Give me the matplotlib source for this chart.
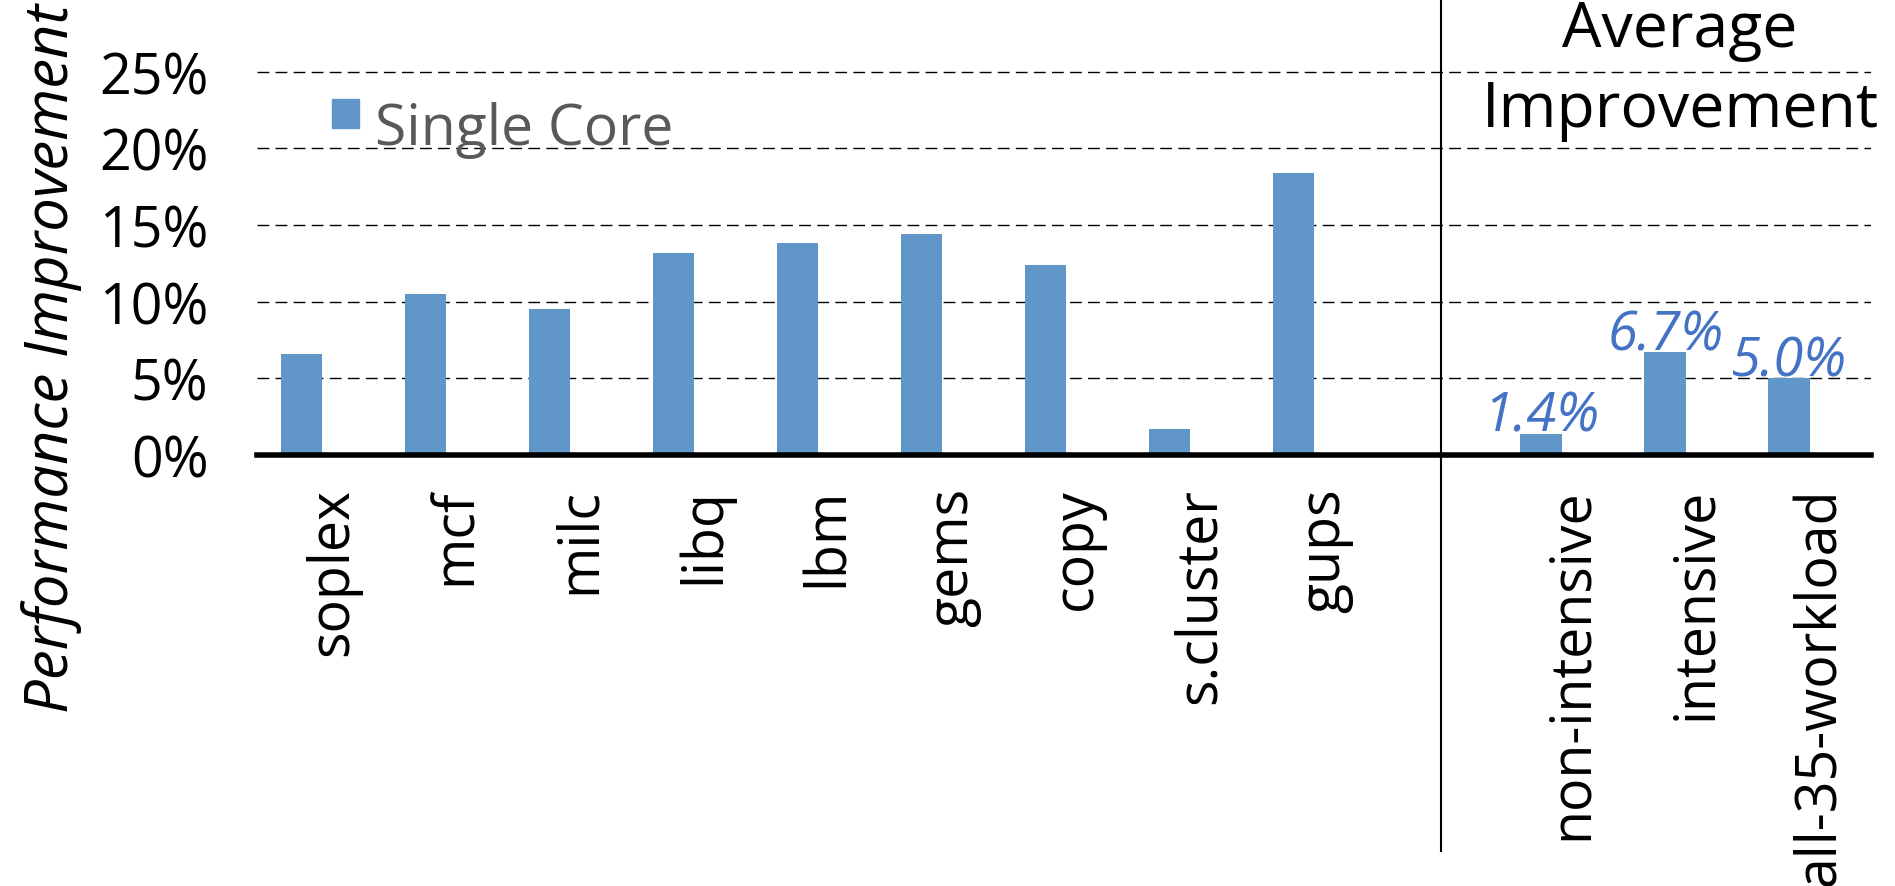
import numpy as np
import matplotlib
matplotlib.use("Agg")
import matplotlib.pyplot as plt
import matplotlib.transforms as mtransforms
from matplotlib.patches import Rectangle

# ── 1. Data ──────────────────────────────────────────────────────────────────
BENCH_NAMES = ["soplex", "mcf", "milc", "libq", "lbm", "gems", "copy", "s.cluster", "gups"]
BENCH_VALS  = [6.6, 10.5, 9.5, 13.2, 13.8, 14.4, 12.4, 1.7, 18.4]

AVG_NAMES = ["non-intensive", "intensive", "all-35-workload"]
AVG_VALS  = [1.4, 6.7, 5.0]

Y_TICKS = [0, 5, 10, 15, 20, 25]

BAR_COLOR   = "#6196C9"
LABEL_COLOR = "#4472C4"

plt.rcParams["font.family"] = ["Open Sans", "DejaVu Sans"]

# ── 2. Positions ─────────────────────────────────────────────────────────────
x_bench = np.arange(len(BENCH_NAMES))
x_avg   = len(BENCH_NAMES) + 1 + np.arange(len(AVG_NAMES))
SEP_X   = 9.19
LABEL_SHIFT = 0.25
BAR_W = 0.336

W, H = 1895, 887
fig = plt.figure(figsize=(W / 100, H / 100), dpi=100)
ax = fig.add_axes([257 / W, 1 - 456 / H, (1871 - 257) / W, (456 - 67.9) / H])

ax.bar(x_bench, BENCH_VALS, width=BAR_W, color=BAR_COLOR, zorder=3)
ax.bar(x_avg, AVG_VALS, width=BAR_W, color=BAR_COLOR, zorder=3)

for x, v in zip(x_avg, AVG_VALS):
    ax.text(x, v + 0.2, f"{v:.1f}%", ha="center", va="baseline",
            fontsize=39, style="italic", color=LABEL_COLOR, zorder=4)

# ── 3. Axes styling ──────────────────────────────────────────────────────────
ax.set_xlim(-0.36, 12.66)
ax.set_ylim(0, 25.3)
ax.set_yticks(Y_TICKS)
ax.set_yticklabels([f"{t}%" for t in Y_TICKS], fontsize=40)
ax.tick_params(axis="y", length=0, pad=35)

all_x = np.concatenate([x_bench, x_avg]) + LABEL_SHIFT
ax.set_xticks(all_x)
ax.set_xticklabels(BENCH_NAMES + AVG_NAMES, rotation=90, fontsize=40, va="top")
ax.tick_params(axis="x", length=0, pad=23)

ax.yaxis.grid(True, color="black", linestyle=(0, (8.5, 4.5)), linewidth=1.0, zorder=1)
ax.xaxis.grid(False)
for side in ["top", "right", "left"]:
    ax.spines[side].set_visible(False)
ax.spines["bottom"].set_linewidth(4)
ax.spines["bottom"].set_zorder(5)

# separator between benchmarks and averages
trans = mtransforms.blended_transform_factory(ax.transData, fig.transFigure)
ax.plot([SEP_X, SEP_X], [1 - 852 / H, 1.0], color="black", linewidth=1.5,
        transform=trans, clip_on=False, zorder=6)

fig.text(1680 / W, 1 - 47 / H, "Average", ha="center", va="baseline", fontsize=45)
fig.text(1680 / W, 1 - 127 / H, "Improvement", ha="center", va="baseline", fontsize=45)

fig.text(52 / W, 1 - 358 / H, "Performance Improvement", rotation=90,
         ha="center", va="center", fontsize=43, style="italic")

# ── 4. Legend (drawn by hand to match the offset of the label) ───────────────
fig.add_artist(Rectangle((332 / W, 1 - 129 / H), 27 / W, 29 / H,
                         transform=fig.transFigure, color=BAR_COLOR))
fig.text(375 / W, 1 - 145 / H, "Single Core", ha="left", va="baseline",
         fontsize=41, color="#595959")

fig.savefig("out.png", dpi=100)
